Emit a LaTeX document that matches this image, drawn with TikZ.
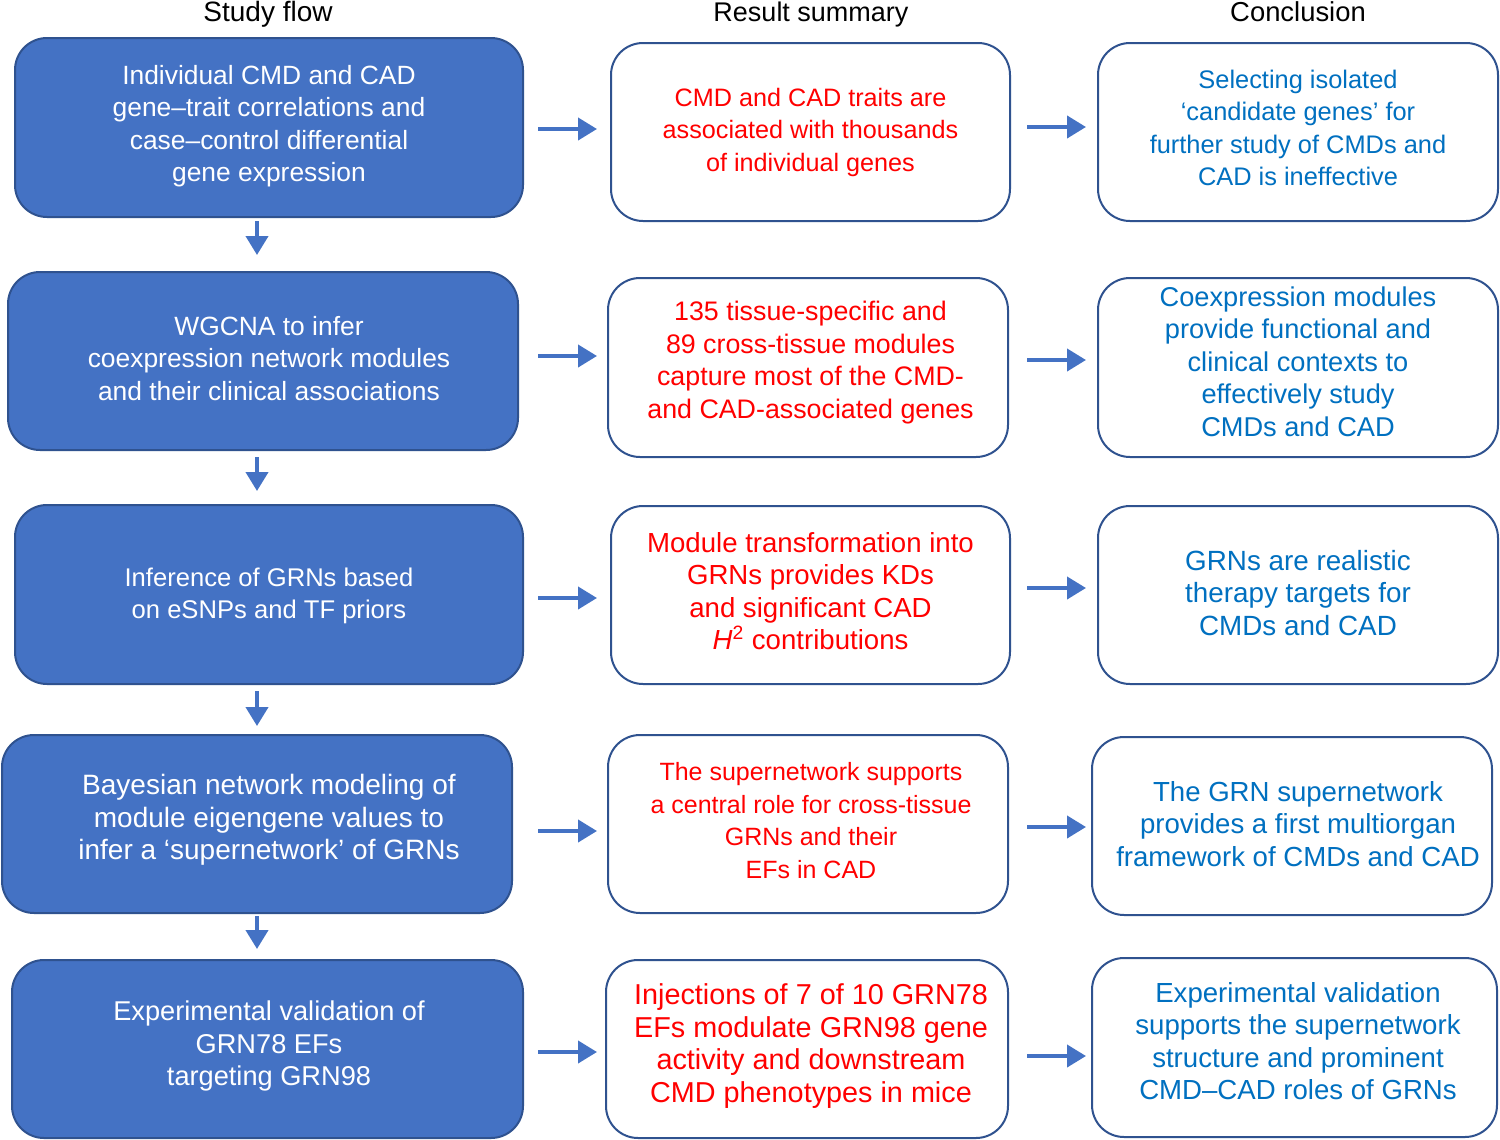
\documentclass[tikz,border=0pt]{standalone}
\usepackage{fontspec}
\setmainfont{Liberation Sans}
\usetikzlibrary{arrows.meta}
\definecolor{flowblue}{HTML}{4472C4}
\definecolor{edgeblue}{HTML}{2F528F}
\definecolor{concblue}{HTML}{0070C0}
\definecolor{resred}{HTML}{FF0000}
\newcommand{\fsz}[1]{\fontsize{#1}{16.25pt}\selectfont}
\tikzset{
  boxbase/.style={draw=edgeblue, line width=1pt, rounded corners=16pt, inner sep=0pt},
  flowbox/.style={boxbase, fill=flowblue},
  whitebox/.style={boxbase, fill=white},
  flowtxt/.style={align=center, inner sep=0pt, text=white},
  restxt/.style={align=center, inner sep=0pt, text=resred},
  conctxt/.style={align=center, inner sep=0pt, text=concblue},
  hdr/.style={anchor=base, text=black},
  arr/.style={draw=flowblue, line width=2pt, -{Triangle[length=9.5pt,width=11pt]}},
}
\begin{document}
\begin{tikzpicture}[x=0.5pt,y=-0.5pt]
\useasboundingbox (0,0) rectangle (1500,1140);
\fill[white] (0,0) rectangle (1500,1140);

% headers
\node[hdr, font=\fsz{14}] (h1) at (268,21) {Study flow};
\node[hdr, font=\fsz{13.5}] (h2) at (811,21) {Result summary};
\node[hdr, font=\fsz{13.7}] (h3) at (1298,21) {Conclusion};

% column 1 boxes
\node[flowbox, minimum width=254pt, minimum height=89.5pt] (b1) at (269,127.5) {};
\node[flowbox, minimum width=255pt, minimum height=89pt] (b2) at (263,361) {};
\node[flowbox, minimum width=254pt, minimum height=89.5pt] (b3) at (269,594.5) {};
\node[flowbox, minimum width=255pt, minimum height=89pt] (b4) at (257,824) {};
\node[flowbox, minimum width=255.5pt, minimum height=89pt] (b5) at (267.5,1049) {};
% column 1 texts
\node[flowtxt, font=\fsz{13.2}] (b1t) at (269,126)
  {Individual CMD and CAD\\gene–trait correlations and\\case–control differential\\gene expression};
\node[flowtxt, font=\fsz{13.2}] (b2t) at (269,358.5)
  {WGCNA to infer\\coexpression network modules\\and their clinical associations};
\node[flowtxt, font=\fsz{12.8}] (b3t) at (269,596)
  {Inference of GRNs based\\on eSNPs and TF priors};
\node[flowtxt, font=\fsz{14}] (b4t) at (269,820)
  {Bayesian network modeling of\\module eigengene values to\\infer a ‘supernetwork’ of GRNs};
\node[flowtxt, font=\fsz{13.6}] (b5t) at (269,1046)
  {Experimental validation of\\GRN78 EFs\\targeting GRN98};

% column 2 boxes
\node[whitebox, minimum width=199.5pt, minimum height=89pt] (r1) at (810.5,132) {};
\node[whitebox, minimum width=200pt, minimum height=89.5pt] (r2) at (808,367.5) {};
\node[whitebox, minimum width=199.5pt, minimum height=89pt] (r3) at (810.5,595) {};
\node[whitebox, minimum width=200pt, minimum height=89pt] (r4) at (808,824) {};
\node[whitebox, minimum width=201pt, minimum height=89pt] (r5) at (807,1049) {};
% column 2 texts
\node[restxt, font=\fsz{12.6}] (r1t) at (810.5,132)
  {CMD and CAD traits are\\associated with thousands\\of individual genes};
\node[restxt, font=\fsz{13.4}] (r2t) at (810.5,362.5)
  {135 tissue-specific and\\89 cross-tissue modules\\capture most of the CMD-\\and CAD-associated genes};
\node[restxt, font=\fsz{13.8}] (r3t) at (810.5,591)
  {Module transformation into\\GRNs provides KDs\\and significant CAD\\\textit{H}\textsuperscript{2} contributions};
\node[restxt, font=\fsz{12.5}] (r4t) at (811,820.5)
  {The supernetwork supports\\a central role for cross-tissue\\GRNs and their\\EFs in CAD};
\node[restxt, font=\fsz{14.4}] (r5t) at (811,1046)
  {Injections of 7 of 10 GRN78\\EFs modulate GRN98 gene\\activity and downstream\\CMD phenotypes in mice};

% column 3 boxes
\node[whitebox, minimum width=200pt, minimum height=89pt] (c1) at (1298,132) {};
\node[whitebox, minimum width=200pt, minimum height=89.5pt] (c2) at (1298,367.5) {};
\node[whitebox, minimum width=200pt, minimum height=89pt] (c3) at (1298,595) {};
\node[whitebox, minimum width=200pt, minimum height=89pt] (c4) at (1292,826) {};
\node[whitebox, minimum width=202.5pt, minimum height=89.5pt] (c5) at (1294.5,1047.5) {};
% column 3 texts
\node[conctxt, font=\fsz{12.7}] (c1t) at (1298,128)
  {Selecting isolated\\‘candidate genes’ for\\further study of CMDs and\\CAD is ineffective};
\node[conctxt, font=\fsz{13.6}] (c2t) at (1298,361.5)
  {Coexpression modules\\provide functional and\\clinical contexts to\\effectively study\\CMDs and CAD};
\node[conctxt, font=\fsz{13.9}] (c3t) at (1298,593)
  {GRNs are realistic\\therapy targets for\\CMDs and CAD};
\node[conctxt, font=\fsz{13.8}] (c4t) at (1298,824)
  {The GRN supernetwork\\provides a first multiorgan\\framework of CMDs and CAD};
\node[conctxt, font=\fsz{13.8}] (c5t) at (1298,1041)
  {Experimental validation\\supports the supernetwork\\structure and prominent\\CMD–CAD roles of GRNs};

% vertical arrows
\coordinate (vx) at (257,0);
\draw[arr, shorten <=1.5pt, shorten >=8pt] (b1.south -| vx) -- (b2.north -| vx);
\draw[arr, shorten <=3pt, shorten >=6.5pt] (b2.south -| vx) -- (b3.north -| vx);
\draw[arr, shorten <=3pt, shorten >=4pt] (b3.south -| vx) -- (b4.north -| vx);
\draw[arr, shorten <=1pt, shorten >=5pt] (b4.south -| vx) -- (b5.north -| vx);

% horizontal arrows: fixed x extents
\coordinate (ax) at (538,0);
\coordinate (bx) at (597,0);
\coordinate (cx) at (1027,0);
\coordinate (dx) at (1086,0);
\coordinate (y1) at (0,129);
\coordinate (y2) at (0,356);
\coordinate (y3) at (0,598);
\coordinate (y4) at (0,831);
\coordinate (y5) at (0,1052);
\coordinate (z1) at (0,127);
\coordinate (z2) at (0,360);
\coordinate (z3) at (0,588);
\coordinate (z4) at (0,827);
\coordinate (z5) at (0,1056);
\foreach \i in {1,...,5}{
  \draw[arr] (ax |- y\i) -- (bx |- y\i);
  \draw[arr] (cx |- z\i) -- (dx |- z\i);
}
\end{tikzpicture}
\end{document}
